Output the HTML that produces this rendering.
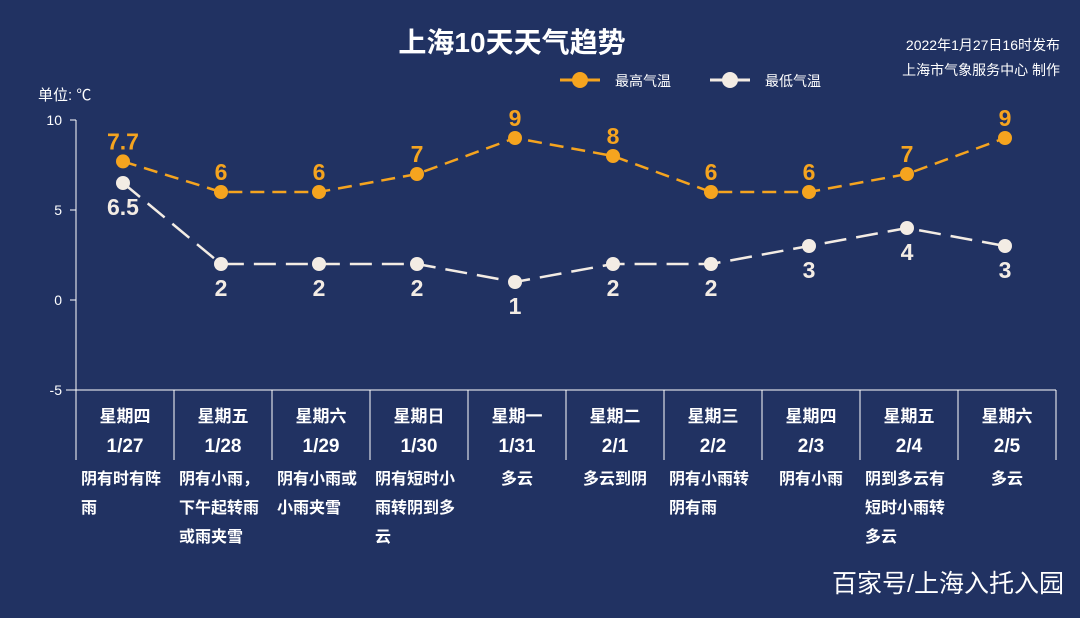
<!DOCTYPE html>
<html><head><meta charset="utf-8"><style>
body{margin:0;width:1080px;height:613px;background:#213262;overflow:hidden;font-family:"Liberation Sans","Noto Sans CJK SC",sans-serif;}
svg text{font-family:"Liberation Sans","Noto Sans CJK SC",sans-serif;}
</style></head><body>
<svg id="c" width="1080" height="613">
<text x="512" y="52" text-anchor="middle" fill="#fff" font-size="28" font-weight="bold">上海10天天气趋势</text>
<text x="1060" y="50" text-anchor="end" fill="#fff" font-size="14">2022年1月27日16时发布</text>
<text x="1060" y="75" text-anchor="end" fill="#fff" font-size="14">上海市气象服务中心 制作</text>
<g><line x1="560" y1="80" x2="600" y2="80" stroke="#f5a41f" stroke-width="3"/><circle cx="580" cy="80" r="8" fill="#f5a41f"/><text x="615" y="86" fill="#fff" font-size="14">最高气温</text></g>
<g><line x1="710" y1="80" x2="750" y2="80" stroke="#f3ece4" stroke-width="3"/><circle cx="730" cy="80" r="8" fill="#f3ece4"/><text x="765" y="86" fill="#fff" font-size="14">最低气温</text></g>
<text x="38" y="100" fill="#fff" font-size="15">单位: ℃</text>
<g id="g"></g>
<text x="1064" y="592" text-anchor="end" fill="#fff" font-size="25">百家号/上海入托入园</text>
</svg>
<script>
const weekdays=["星期四","星期五","星期六","星期日","星期一","星期二","星期三","星期四","星期五","星期六"];
const dates=["1/27","1/28","1/29","1/30","1/31","2/1","2/2","2/3","2/4","2/5"];
const highs=[7.7,6,6,7,9,8,6,6,7,9];
const lows=[6.5,2,2,2,1,2,2,3,4,3];
const yTicks=[10,5,0,-5];
const weather=[["阴有时有阵","雨"],["阴有小雨，","下午起转雨","或雨夹雪"],["阴有小雨或","小雨夹雪"],["阴有短时小","雨转阴到多","云"],["多云"],["多云到阴"],["阴有小雨转","阴有雨"],["阴有小雨"],["阴到多云有","短时小雨转","多云"],["多云"]];
const NS="http://www.w3.org/2000/svg",g=document.getElementById('g');
const x0=76,cw=98,yScale=v=>300-v*18,xc=i=>x0+cw*i+cw/2-2;
function el(t,a,p){const e=document.createElementNS(NS,t);for(const k in a)e.setAttribute(k,a[k]);(p||g).appendChild(e);return e;}
let e=el('line',{x1:x0,y1:120,x2:x0,y2:390,stroke:'#fff','stroke-width':1});


e=el('line',{x1:x0-10,y1:390,x2:1056,y2:390,stroke:'#fff','stroke-width':1});


yTicks.forEach(v=>{el('line',{x1:x0-6,y1:yScale(v),x2:x0,y2:yScale(v),stroke:'#fff'});
e=el('text',{x:x0-14,y:yScale(v)+5,'text-anchor':'end',fill:'#fff','font-size':14});e.textContent=v;

});
for(let i=0;i<=10;i++){el('line',{x1:x0+cw*i,y1:390,x2:x0+cw*i,y2:460,stroke:'#fff'});}
dates.forEach((d,i)=>{const cx=x0+cw*i+cw/2;
e=el('text',{x:cx,y:422,'text-anchor':'middle',fill:'#fff','font-size':17,'font-weight':'bold'});e.textContent=weekdays[i];


e=el('text',{x:cx,y:452,'text-anchor':'middle',fill:'#fff','font-size':19,'font-weight':'bold'});e.textContent=d;


const single=weather[i].length===1;
weather[i].forEach((w,j)=>{e=el('text',single?{x:cx,y:484,'text-anchor':'middle',fill:'#fff','font-size':16,'font-weight':'bold'}:{x:x0+cw*i+5,y:484+j*29,fill:'#fff','font-size':16,'font-weight':'bold'});e.textContent=w;

});});
function series(vals,col,name,dash,below){
e=el('polyline',{points:vals.map((v,i)=>xc(i)+','+yScale(v)).join(' '),fill:'none',stroke:col,'stroke-width':2.5,'stroke-dasharray':dash});


vals.forEach((v,i)=>{e=el('circle',{cx:xc(i),cy:yScale(v),r:7,fill:col});


e=el('text',{x:xc(i),y:yScale(v)+(below(i)?32:-12),'text-anchor':'middle',fill:col,'font-size':23,'font-weight':'bold'});e.textContent=v;

});}
series(highs,'#f5a41f','high-temp','14 8',()=>false);
series(lows,'#f3ece4','low-temp','22 10',()=>true);
</script>
</body></html>
